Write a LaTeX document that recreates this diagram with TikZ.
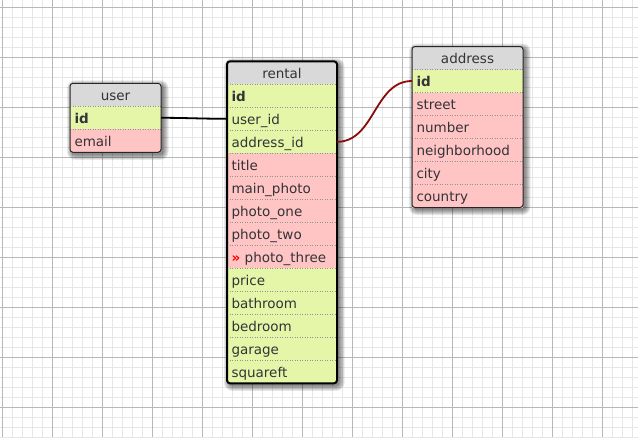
\documentclass[tikz,border=0pt]{standalone}
\usepackage{fontspec}
\setmainfont{DejaVu Sans}
\usepackage{xcolor}
\usepackage{tikz}
\usetikzlibrary{positioning}

\definecolor{headgray}{HTML}{D9D9D9}
\definecolor{keygreen}{HTML}{E5F6A8}
\definecolor{colpink}{HTML}{FFC4C4}
\definecolor{txt}{HTML}{333338}
\definecolor{gridminor}{HTML}{E6E6E6}
\definecolor{gridmajor}{HTML}{B8B8B8}
\definecolor{linkred}{HTML}{8B0A0A}

\pgfdeclarelayer{grid}
\pgfdeclarelayer{bg}
\pgfsetlayers{grid,bg,main}

\tikzset{
  cell/.style={minimum height=23pt, inner xsep=4.5pt, inner ysep=0pt, outer sep=0pt,
    text height=12pt, text depth=1pt, text=txt, font=\fontsize{13.5}{15}\selectfont},
  hdr/.style={cell, fill=headgray, align=center},
  pk/.style={cell, fill=keygreen, align=left, font=\fontsize{13.5}{15}\selectfont\bfseries},
  fk/.style={cell, fill=keygreen, align=left},
  col/.style={cell, fill=colpink, align=left},
  sep/.style={gray!85, line width=0.8pt, dash pattern=on 1pt off 1.5pt},
}

% soft drop shadow behind a table, from its two corner nodes
\newcommand{\tblshadow}[2]{%
  \foreach \k in {0,...,5}
    \fill [black, opacity=0.09, rounded corners={3pt+\k pt}]
      ([xshift={2pt-\k pt}, yshift={\k pt-2pt}]#1.north west)
      rectangle ([xshift={2.5pt+\k pt}, yshift={-2.5pt-\k pt}]#2.south east);
}

\begin{document}
\begin{tikzpicture}[x=1pt, y=-1pt]
    \useasboundingbox (0,0) rectangle (638,437);

    % background grid
    \begin{pgfonlayer}{grid}
    \fill[white] (0,0) rectangle (638,437);
    \foreach \i in {0,...,64}
        \draw[gridminor, line width=1pt] ({2.5+10*\i},0) -- ({2.5+10*\i},437);
    \foreach \i in {0,...,43}
        \draw[gridminor, line width=1pt] (0,{7.3+10*\i}) -- (638,{7.3+10*\i});
    \foreach \i in {0,...,12}
        \draw[gridmajor, line width=1pt] ({2.5+50*\i},0) -- ({2.5+50*\i},437);
    \foreach \i in {0,...,8}
        \draw[gridmajor, line width=1pt] (0,{7.3+50*\i}) -- (638,{7.3+50*\i});
    \end{pgfonlayer}

    % user
    \begin{scope}[nodes={text width=82pt}]
    \node [hdr, anchor=north west] (user) at (70,83.3) {user};
    \node [pk, below=0pt of user] (user-id) {id};
    \node [col, below=0pt of user-id] (user-email) {email};
    \end{scope}

    % rental
    \begin{scope}[nodes={text width=101pt}]
    \node [hdr, anchor=north west] (rental) at (227,61.3) {rental};
    \node [pk, below=0pt of rental] (rental-id) {id};
    \node [fk, below=0pt of rental-id] (rental-user_id) {user\_id};
    \node [fk, below=0pt of rental-user_id] (rental-address_id) {address\_id};
    \node [col, below=0pt of rental-address_id] (rental-title) {title};
    \node [col, below=0pt of rental-title] (rental-main_photo) {main\_photo};
    \node [col, below=0pt of rental-main_photo] (rental-photo_one) {photo\_one};
    \node [col, below=0pt of rental-photo_one] (rental-photo_two) {photo\_two};
    \node [col, below=0pt of rental-photo_two] (rental-photo_three) {{\color{red}\bfseries »}~photo\_three};
    \node [fk, below=0pt of rental-photo_three] (rental-price) {price};
    \node [fk, below=0pt of rental-price] (rental-bathroom) {bathroom};
    \node [fk, below=0pt of rental-bathroom] (rental-bedroom) {bedroom};
    \node [fk, below=0pt of rental-bedroom] (rental-garage) {garage};
    \node [fk, below=0pt of rental-garage] (rental-squareft) {squareft};
    \end{scope}

    % address
    \begin{scope}[nodes={text width=102pt}]
    \node [hdr, anchor=north west] (address) at (412,46.5) {address};
    \node [pk, below=0pt of address] (address-id) {id};
    \node [col, below=0pt of address-id] (address-street) {street};
    \node [col, below=0pt of address-street] (address-number) {number};
    \node [col, below=0pt of address-number] (address-neighborhood) {neighborhood};
    \node [col, below=0pt of address-neighborhood] (address-city) {city};
    \node [col, below=0pt of address-city] (address-country) {country};
    \end{scope}

    % shadows
    \begin{pgfonlayer}{bg}
    \tblshadow{user}{user-email}
    \tblshadow{rental}{rental-squareft}
    \tblshadow{address}{address-country}
    \end{pgfonlayer}

    % row separators
    \foreach \r in {id,email}
        \draw [sep] (user-\r.north west) -- (user-\r.north east);
    \foreach \r in {id,user_id,address_id,title,main_photo,photo_one,photo_two,photo_three,price,bathroom,bedroom,garage,squareft}
        \draw [sep] (rental-\r.north west) -- (rental-\r.north east);
    \foreach \r in {id,street,number,neighborhood,city,country}
        \draw [sep] (address-\r.north west) -- (address-\r.north east);

    % outlines
    \draw [black!85, line width=1pt, rounded corners=3pt] (user.north west) rectangle (user-email.south east);
    \draw [black, line width=2pt, rounded corners=3pt] (rental.north west) rectangle (rental-squareft.south east);
    \draw [black!85, line width=1pt, rounded corners=3pt] (address.north west) rectangle (address-country.south east);

    % links
    \draw [black, line width=1.8pt] (user-id.east) to [out=0, in=180] (rental-user_id.west);
    \draw [linkred, line width=1.8pt] (rental-address_id.east) to [out=0, in=180] (address-id.west);
\end{tikzpicture}
\end{document}
